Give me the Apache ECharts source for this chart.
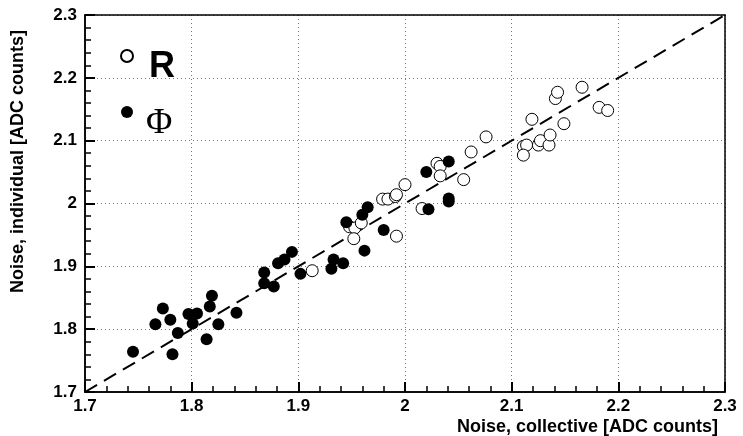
<!DOCTYPE html>
<html>
<head>
<meta charset="utf-8" />
<style>
  html, body { margin: 0; padding: 0; background: #fff; }
  #main { width: 743px; height: 436px; }
</style>
</head>
<body>
<div id="main"></div>
<script src="https://cdn.jsdelivr.net/npm/echarts@6/dist/echarts.min.js"></script>
<script>
// open circles: R
const rPoints = [
  [1.913, 1.893], [1.948, 1.963], [1.953, 1.961], [1.959, 1.969], [1.952, 1.944],
  [1.979, 2.007], [1.984, 2.007], [1.991, 2.011], [1.992, 2.014], [2.000, 2.030],
  [1.992, 1.948], [2.016, 1.992], [2.030, 2.064], [2.033, 2.059], [2.033, 2.044],
  [2.055, 2.038], [2.062, 2.082], [2.076, 2.106], [2.111, 2.091], [2.114, 2.093],
  [2.111, 2.077], [2.125, 2.093], [2.127, 2.100], [2.135, 2.093], [2.136, 2.109],
  [2.119, 2.134], [2.149, 2.127], [2.141, 2.167], [2.143, 2.177], [2.166, 2.185],
  [2.182, 2.153], [2.190, 2.148]
];
// filled circles: Phi
const phiPoints = [
  [1.745, 1.764], [1.766, 1.808], [1.773, 1.833], [1.780, 1.815], [1.782, 1.760],
  [1.787, 1.794], [1.797, 1.824], [1.801, 1.809], [1.805, 1.825], [1.814, 1.784],
  [1.817, 1.836], [1.819, 1.853], [1.825, 1.808], [1.842, 1.826], [1.868, 1.890],
  [1.868, 1.873], [1.877, 1.868], [1.881, 1.905], [1.887, 1.911], [1.894, 1.923],
  [1.902, 1.888], [1.931, 1.896], [1.933, 1.911], [1.942, 1.905], [1.945, 1.970],
  [1.960, 1.982], [1.965, 1.994], [1.962, 1.925], [1.980, 1.958], [2.022, 1.991],
  [2.041, 2.008], [2.041, 2.003], [2.020, 2.050], [2.041, 2.067]
];
const diagLine = [[1.7, 1.7], [2.3, 2.3]];
const axisMin = 1.7, axisMax = 2.3, axisStep = 0.1;

const chart = echarts.init(document.getElementById('main'));

const sans = 'Liberation Sans, Arial, sans-serif';
const labelFont = { color: '#000', fontSize: 17, fontWeight: 'bold', fontFamily: sans };
const rect = { left: 85, right: 18, top: 15, bottom: 44 };

function frameAxis(pos) {
  return {
    type: 'value', position: pos, min: axisMin, max: axisMax, interval: axisStep,
    axisLine: { show: true, onZero: false, lineStyle: { color: '#000', width: 1.5 } },
    axisTick: { show: false }, axisLabel: { show: false }, splitLine: { show: false }
  };
}
// separate axes on an overlaid grid that only draw the inside ticks
// (tick colour left to inherit from the axis line)
function tickAxis(pos) {
  return {
    type: 'value', gridIndex: 1, position: pos, min: axisMin, max: axisMax, interval: axisStep,
    zlevel: 1, z: 50,
    axisLine: { show: true, onZero: false, lineStyle: { color: '#000', width: 1.5 } },
    axisTick: { show: true, inside: true, length: 10, lineStyle: { width: 2 } },
    minorTick: { show: true, splitNumber: 5, length: 6, lineStyle: { width: 1.5, color: '#000' } },
    axisLabel: { show: false },
    splitLine: { show: false }
  };
}

const option = {
  animation: false,
  grid: [rect, Object.assign({}, rect)],
  legend: {
    orient: 'vertical',
    left: 120, top: 49, padding: 0,
    itemGap: 43,
    itemWidth: 12, itemHeight: 12,
    data: ['R', 'Φ'],
    formatter: () => '',
    textStyle: { fontSize: 1 }
  },
  graphic: [
    { type: 'text', left: 149, top: 49, style: { text: 'R', fontSize: 36, fontWeight: 'bold', fontFamily: sans, fill: '#000' } },
    { type: 'text', left: 146, top: 106, style: { text: 'Φ', fontSize: 36, fontFamily: 'Liberation Serif, DejaVu Serif, serif', fill: '#000' } }
  ],
  xAxis: [{
    type: 'value', min: axisMin, max: axisMax, interval: axisStep,
    name: 'Noise, collective [ADC counts]',
    nameLocation: 'end', nameGap: 0,
    nameTextStyle: { fontSize: 18, fontWeight: 'bold', fontFamily: sans, color: '#000', align: 'right', verticalAlign: 'top', padding: [26, 7, 0, 0] },
    axisLine: { show: true, onZero: false, lineStyle: { color: '#000', width: 1.5 } },
    axisTick: { show: false },
    axisLabel: Object.assign({ margin: 6, formatter: v => +v.toFixed(1) + '' }, labelFont),
    splitLine: { show: true, lineStyle: { color: '#777', type: [1, 3], width: 1 } }
  }, frameAxis('top'), tickAxis('bottom')],
  yAxis: [{
    type: 'value', min: axisMin, max: axisMax, interval: axisStep,
    name: 'Noise, individual [ADC counts]',
    nameLocation: 'end', nameGap: 0, nameRotate: 90,
    nameTextStyle: { fontSize: 18, fontWeight: 'bold', fontFamily: sans, color: '#000', align: 'right', verticalAlign: 'bottom', padding: [0, 15, 58, 0] },
    axisLine: { show: true, onZero: false, lineStyle: { color: '#000', width: 1.5 } },
    axisTick: { show: false },
    axisLabel: Object.assign({ margin: 8, formatter: v => +v.toFixed(1) + '' }, labelFont),
    splitLine: { show: true, lineStyle: { color: '#777', type: [1, 3], width: 1 } }
  }, frameAxis('right'), tickAxis('left')],
  series: [
    {
      name: 'R', type: 'scatter', data: rPoints, symbol: 'circle', symbolSize: 12,
      itemStyle: { color: '#fff', borderColor: '#000', borderWidth: 1, opacity: 1 }, z: 3
    },
    {
      name: 'Φ', type: 'scatter', data: phiPoints, symbol: 'circle', symbolSize: 12,
      itemStyle: { color: '#000', opacity: 1 }, z: 4
    },
    {
      name: 'diag', type: 'line', data: diagLine, symbol: 'none', silent: true,
      lineStyle: { color: '#000', width: 2, type: [14, 8] }, z: 2
    },
    { name: 'ticks', type: 'scatter', xAxisIndex: 2, yAxisIndex: 2, data: [], silent: true }
  ]
};
chart.setOption(option);
</script>
</body>
</html>
